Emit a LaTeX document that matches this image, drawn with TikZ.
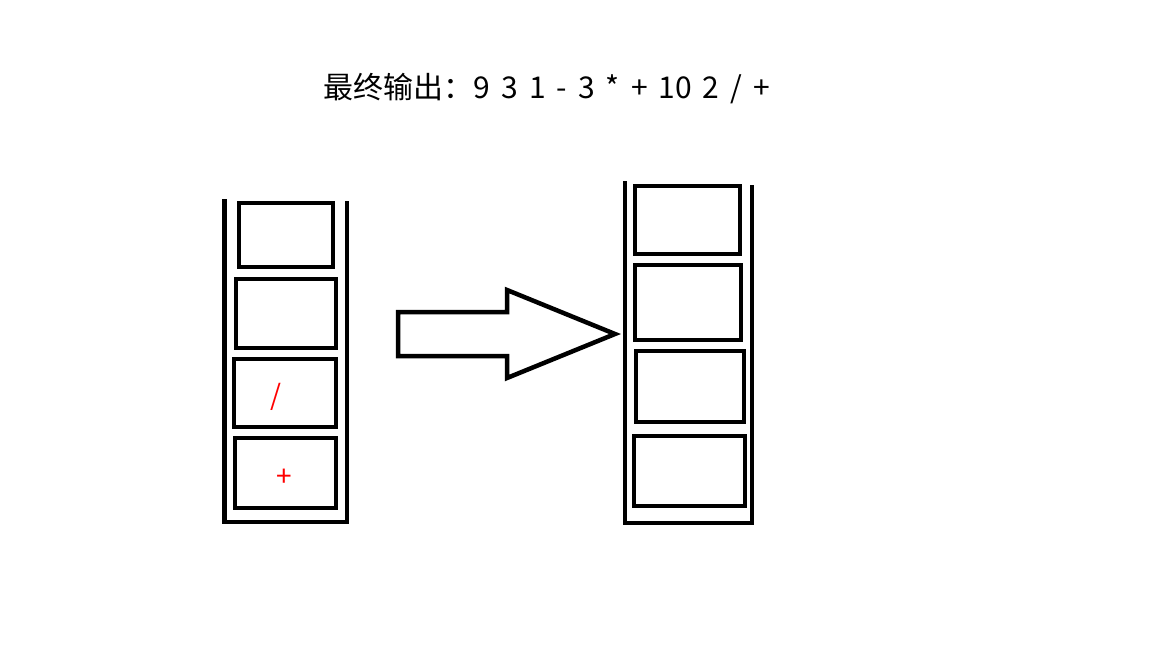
\documentclass[tikz,border=0pt]{standalone}
\usepackage{fontspec}
\newfontfamily\cjk{Noto Sans CJK SC}
\usetikzlibrary{positioning}
\tikzset{
  cell/.style = {draw=black, line width=4.5pt, rectangle, inner sep=0pt},
  wall/.style = {draw=black, line width=4.5pt},
  optext/.style = {text=red, font=\cjk\fontsize{28}{32}\selectfont, inner sep=0pt},
  bigArrow/.style = {draw=black, line width=4.5pt, line join=miter}
}

\begin{document}
\begin{tikzpicture}[x=1pt,y=-1pt]
      \useasboundingbox (0,0) rectangle (1152,648);
      % title
      \node[font=\cjk\fontsize{30}{34}\selectfont, inner sep=0pt] (title) at (547,89)
        {\spaceskip=11pt 最终输出：9 3 1 - 3 * + 10 2 / +};
      % left stack
      \draw[wall] (224.5,199) -- (224.5,522) -- (347,522) -- (347,201);
      \node[cell, minimum width=94pt, minimum height=64pt] (l1) at (286,235) {};
      \node[cell, minimum width=100pt, minimum height=69pt] (l2) at (286,313.5) {};
      \node[cell, minimum width=102pt, minimum height=68pt] (l3) at (285,393) {};
      \node[cell, minimum width=101pt, minimum height=70pt] (l4) at (285.5,473) {};
      \node[optext] (div) at (276,397) {/};
      \node[optext] (plus) at (284,478) {+};
      % arrow
      \draw[bigArrow] (398,312) -- (507,312) -- (507,290) -- (615,334) -- (507,378) -- (507,356) -- (398,356) -- cycle;
      % right stack
      \draw[wall] (625,181) -- (625,523) -- (752,523) -- (752,185);
      \node[cell, minimum width=105pt, minimum height=68pt] (r1) at (687.5,220) {};
      \node[cell, minimum width=106pt, minimum height=75pt] (r2) at (688,302.5) {};
      \node[cell, minimum width=108pt, minimum height=71pt] (r3) at (690,386.5) {};
      \node[cell, minimum width=111pt, minimum height=70pt] (r4) at (689.5,471) {};
\end{tikzpicture}
\end{document}
